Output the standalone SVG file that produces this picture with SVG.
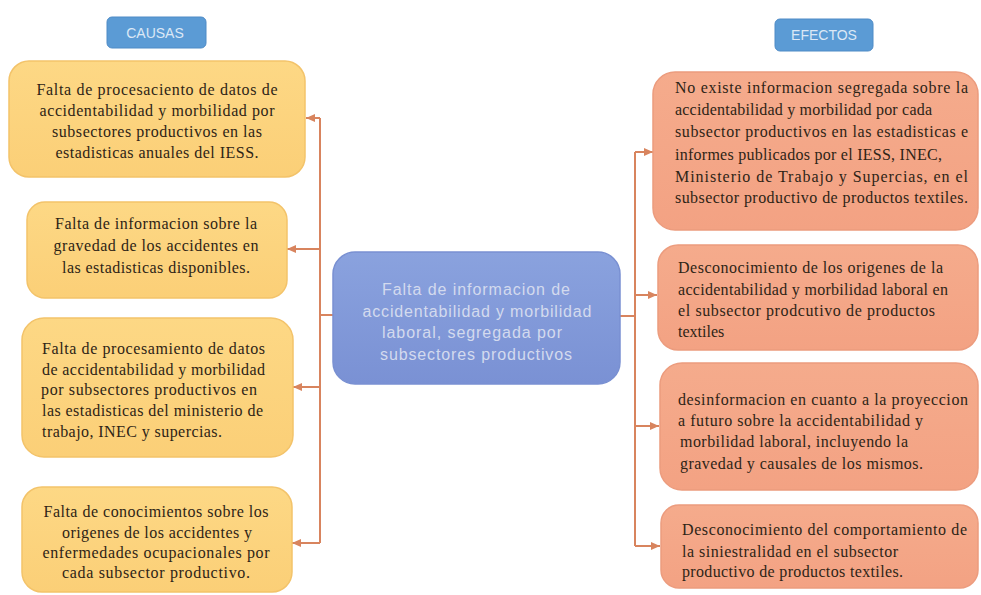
<svg xmlns="http://www.w3.org/2000/svg" width="981" height="595" viewBox="0 0 981 595">
<style>
.cause{fill:url(#gC);stroke:#F3C36A;stroke-width:1.5}
.effect{fill:url(#gE);stroke:#EC9C7E;stroke-width:1.5}
.center{fill:url(#gB);stroke:#7990D2;stroke-width:1.5}
.label{fill:#5B9BD5;stroke:#4F8BC6;stroke-width:1}
.lt{font-family:"Liberation Sans","DejaVu Sans",sans-serif;font-size:14px;fill:#DCE8F6;text-anchor:middle}
.t{font-family:"Liberation Serif","DejaVu Serif",serif;font-size:16px;fill:#2E2416}
.c{text-anchor:middle}
.ct{font-family:"Liberation Sans","Open Sans",sans-serif;font-size:16px;fill:#D3DAEE;text-anchor:middle}
.con{fill:none;stroke:#D8845E;stroke-width:2}
</style>
<defs>
<linearGradient id="gC" x1="0" y1="0" x2="0" y2="1">
<stop offset="0" stop-color="#FDD885"/>
<stop offset="1" stop-color="#FBCF77"/>
</linearGradient>
<linearGradient id="gE" x1="0" y1="0" x2="0" y2="1">
<stop offset="0" stop-color="#F5AB8C"/>
<stop offset="1" stop-color="#F3A283"/>
</linearGradient>
<linearGradient id="gB" x1="0" y1="0" x2="0" y2="1">
<stop offset="0" stop-color="#8AA2DE"/>
<stop offset="1" stop-color="#7A91D4"/>
</linearGradient>
<marker id="ah" markerUnits="userSpaceOnUse" markerWidth="10" markerHeight="10" viewBox="0 0 10 10" refX="9" refY="5" orient="auto">
<path d="M0,1 L9,5 L0,9 Z" fill="#D8845E"/>
</marker>
</defs>

<g id="connectors">
<path class="con" d="M333,315 H320"/>
<path class="con" d="M320,118 V543"/>
<path class="con" d="M320,118 H306" marker-end="url(#ah)"/>
<path class="con" d="M320,249 H287" marker-end="url(#ah)"/>
<path class="con" d="M320,387 H293" marker-end="url(#ah)"/>
<path class="con" d="M320,543 H292" marker-end="url(#ah)"/>
<path class="con" d="M620,316 H635"/>
<path class="con" d="M635,152 V546"/>
<path class="con" d="M635,152 H653" marker-end="url(#ah)"/>
<path class="con" d="M635,295 H657" marker-end="url(#ah)"/>
<path class="con" d="M635,426 H659" marker-end="url(#ah)"/>
<path class="con" d="M635,546 H660" marker-end="url(#ah)"/>
</g>

<g id="label-causas">
<rect class="label" x="107" y="17" width="99" height="31" rx="5"/>
<text class="lt" x="155" y="38">CAUSAS</text>
</g>

<g id="label-efectos">
<rect class="label" x="775" y="19" width="98" height="32" rx="5"/>
<text class="lt" x="824" y="40">EFECTOS</text>
</g>

<g id="center">
<rect class="center" x="333" y="252" width="287" height="132" rx="22"/>
<text class="ct" x="476" y="295" textLength="188">Falta de informacion de</text>
<text class="ct" x="477" y="317" textLength="229">accidentabilidad y morbilidad</text>
<text class="ct" x="472" y="338" textLength="180">laboral, segregada por</text>
<text class="ct" x="476" y="360" textLength="192">subsectores productivos</text>
</g>

<g id="cause1">
<rect class="cause" x="9" y="61" width="296" height="116" rx="20"/>
<text class="t c" x="157" y="95" textLength="241">Falta de procesaciento de datos de</text>
<text class="t c" x="157" y="116" textLength="235">accidentabilidad y morbilidad  por</text>
<text class="t c" x="157" y="137" textLength="210">subsectores productivos en las</text>
<text class="t c" x="157" y="158" textLength="203">estadisticas anuales del IESS.</text>
</g>

<g id="cause2">
<rect class="cause" x="27" y="202" width="260" height="96" rx="18"/>
<text class="t c" x="156" y="229" textLength="202">Falta de informacion  sobre la</text>
<text class="t c" x="156" y="251" textLength="205">gravedad de los accidentes en</text>
<text class="t c" x="156" y="273" textLength="188">las estadisticas disponibles.</text>
</g>

<g id="cause3">
<rect class="cause" x="22" y="318" width="271" height="139" rx="22"/>
<text class="t" x="42" y="354" textLength="223">Falta de procesamiento de datos</text>
<text class="t" x="42" y="375" textLength="223">de accidentabilidad y morbilidad</text>
<text class="t" x="41" y="395" textLength="216">por subsectores productivos en</text>
<text class="t" x="42" y="416" textLength="221">las estadisticas del ministerio de</text>
<text class="t" x="42" y="437" textLength="180">trabajo, INEC  y supercias.</text>
</g>

<g id="cause4">
<rect class="cause" x="22" y="487" width="270" height="105" rx="20"/>
<text class="t c" x="156" y="517" textLength="225">Falta de conocimientos sobre los</text>
<text class="t c" x="157" y="538" textLength="190">origenes de los accidentes y</text>
<text class="t c" x="156" y="558" textLength="227">enfermedades ocupacionales por</text>
<text class="t c" x="156" y="578" textLength="188">cada subsector productivo.</text>
</g>

<g id="effect1">
<rect class="effect" x="653" y="72" width="325" height="158" rx="22"/>
<text class="t" x="675" y="93" textLength="293">No existe informacion  segregada sobre la</text>
<text class="t" x="675" y="115" textLength="257">accidentabilidad y morbilidad  por cada</text>
<text class="t" x="675" y="137" textLength="293">subsector productivos en las estadisticas e</text>
<text class="t" x="675" y="160" textLength="267">informes  publicados por el IESS,  INEC,</text>
<text class="t" x="675" y="182" textLength="293">Ministerio de Trabajo y Supercias, en el</text>
<text class="t" x="675" y="203" textLength="293">subsector productivo de productos textiles.</text>
</g>

<g id="effect2">
<rect class="effect" x="658" y="245" width="320" height="105" rx="20"/>
<text class="t" x="678" y="273" textLength="265">Desconocimiento de los origenes de la</text>
<text class="t" x="678" y="295" textLength="270">accidentabilidad y morbilidad  laboral en</text>
<text class="t" x="678" y="316" textLength="257">el subsector prodcutivo de productos</text>
<text class="t" x="678" y="337">textiles</text>
</g>

<g id="effect3">
<rect class="effect" x="660" y="363" width="318" height="127" rx="22"/>
<text class="t" x="678" y="405" textLength="290">desinformacion en cuanto a la proyeccion</text>
<text class="t" x="678" y="426" textLength="245">a futuro sobre la accidentabilidad y</text>
<text class="t" x="680" y="447" textLength="228">morbilidad  laboral, incluyendo la</text>
<text class="t" x="680" y="469" textLength="243">gravedad y causales de los mismos.</text>
</g>

<g id="effect4">
<rect class="effect" x="661" y="505" width="317" height="83" rx="18"/>
<text class="t" x="682" y="535" textLength="285">Desconocimiento del comportamiento  de</text>
<text class="t" x="682" y="557" textLength="216">la siniestralidad en el subsector</text>
<text class="t" x="682" y="577" textLength="221">productivo de productos textiles.</text>
</g>
</svg>
